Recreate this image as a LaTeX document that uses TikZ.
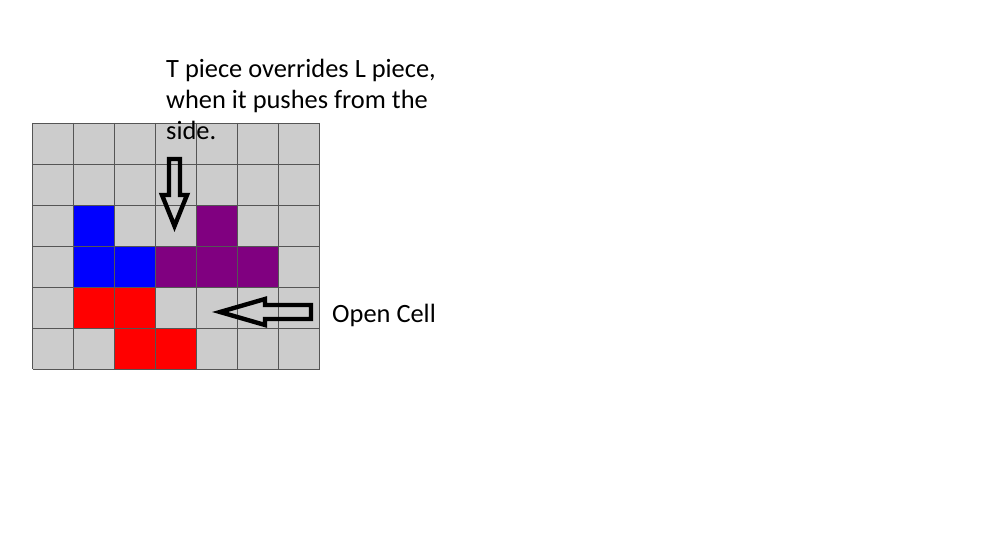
\documentclass[tikz,border=0pt]{standalone}
\usepackage{fontspec}
\setmainfont{Carlito}
\usetikzlibrary{positioning}
\definecolor{cellgray}{RGB}{204,204,204}
\definecolor{gridcolor}{RGB}{85,85,85}
\definecolor{lblue}{RGB}{0,0,255}
\definecolor{zred}{RGB}{255,0,0}
\definecolor{tpurple}{RGB}{128,0,128}
\tikzset{
  gridln/.style={line width=0.8pt, gridcolor},
  blockarrow/.style={line width=4.4pt, line join=miter, black},
  notetext/.style={font=\fontsize{26.4}{31}\selectfont, inner sep=0pt, align=left},
}
\newcommand{\cellfill}[3]{%
  \fill[#1] ({32.5+41*#2},{123+41*#3}) rectangle +(41,41);
}
\begin{document}
\begin{tikzpicture}[x=1pt,y=-1pt]
    \useasboundingbox (0,0) rectangle (981,553);
    % board
    \fill[cellgray] (32.5,123) rectangle (319.5,369);
    % L piece
    \foreach \c/\r in {1/2,1/3,2/3} {\cellfill{lblue}{\c}{\r}}
    % T piece
    \foreach \c/\r in {4/2,3/3,4/3,5/3} {\cellfill{tpurple}{\c}{\r}}
    % Z piece
    \foreach \c/\r in {1/4,2/4,2/5,3/5} {\cellfill{zred}{\c}{\r}}
    % grid
    \foreach \i in {0,...,7}
      \draw[gridln] ({32.5+41*\i},123) -- ({32.5+41*\i},369);
    \foreach \j in {0,...,6}
      \draw[gridln] (32.5,{123+41*\j}) -- (319.5,{123+41*\j});
    % note
    \node[notetext, anchor=north west] (note) at (166,58.5)
      {T piece overrides L piece,\\when it pushes from the\\side.};
    % push arrow (down)
    \draw[blockarrow] (169,159) -- (180,159) -- (180,195) -- (187,195)
      -- (174.5,226) -- (162,195) -- (169,195) -- cycle;
    % open cell arrow (left)
    \draw[blockarrow] (311,305) -- (311,319) -- (265,319) -- (265,325)
      -- (220,312) -- (265,299) -- (265,305) -- cycle;
    \node[notetext, anchor=base west] (opencell) at (332,322) {Open Cell};
\end{tikzpicture}
\end{document}
